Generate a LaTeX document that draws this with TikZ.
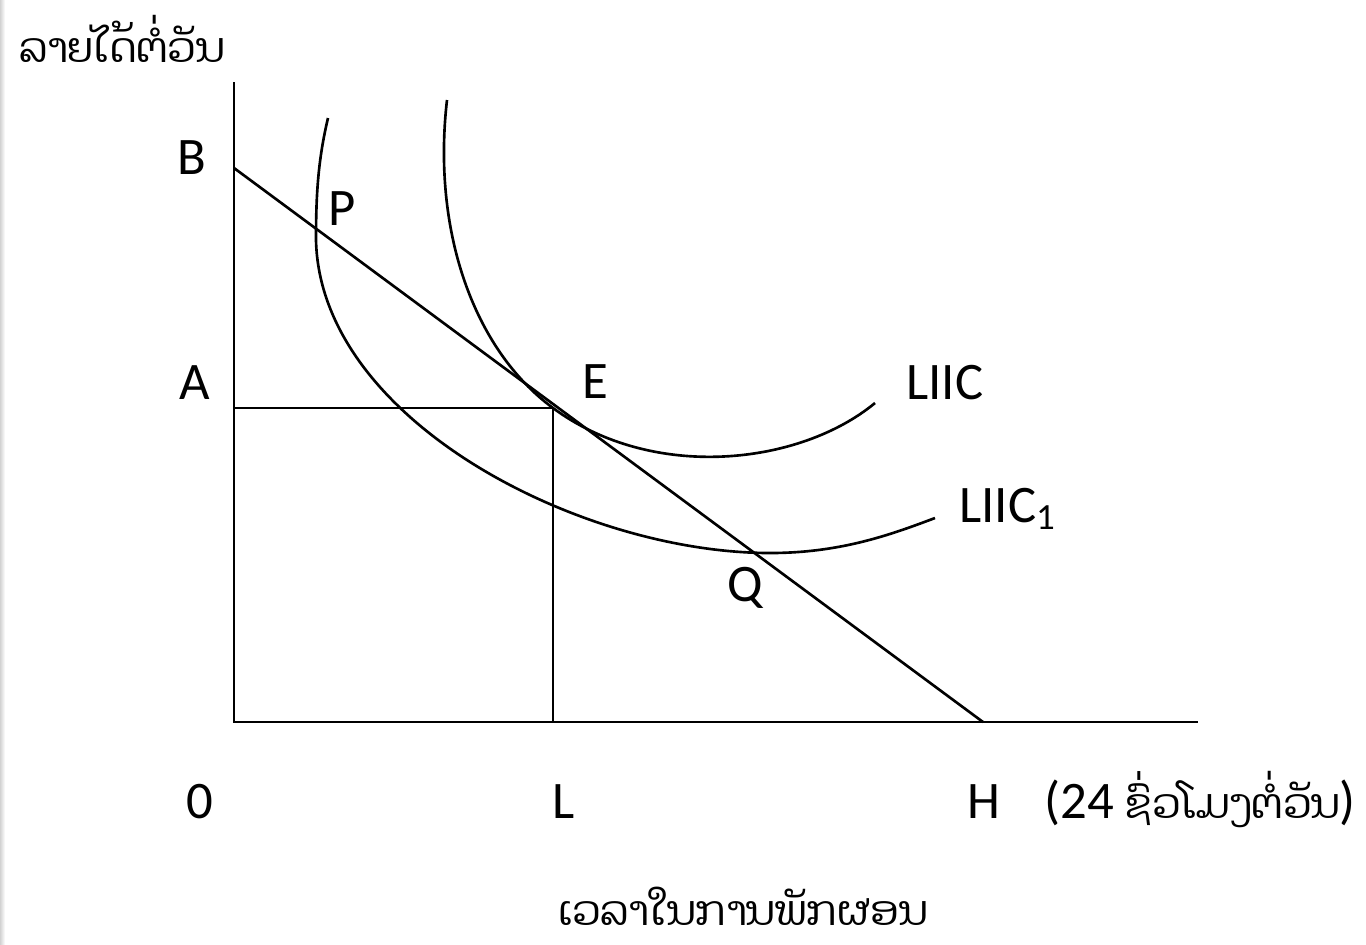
\documentclass[tikz,border=0pt]{standalone}
\usepackage{fontspec}
\setmainfont{Carlito}
\newfontfamily\laofont[Script=Lao]{Dhyana}
\usetikzlibrary{positioning}

\begin{document}
\begin{tikzpicture}[
    x=0.01cm, y=-0.01cm, line width=0.75pt,
    lbl/.style={inner sep=0pt, font=\fontsize{15}{18}\selectfont},
    laolbl/.style={inner sep=0pt, font=\fontsize{11.7}{14}\selectfont\laofont},
    curve/.style={line width=0.75pt}
  ]
  \useasboundingbox (0,0) rectangle (1366,944);
  \shade[left color=gray!35, right color=white] (0,0) rectangle (5,944);

  % axes and points
  \coordinate (top) at (234,82);
  \coordinate (O) at (234,722);
  \coordinate (xend) at (1198,722);
  \coordinate (B) at (234,168);
  \coordinate (H) at (983,722);
  \coordinate (A) at (234,408);
  \coordinate (E) at (553,408);
  \coordinate (L) at (553,722);

  \draw (top) -- (O) -- (xend);
  \draw (B) -- (H);
  \draw (A) -- (E) -- (L);

  % indifference curves
  \draw[curve] (447,100) .. controls (432,230) and (473,349) .. (E)
    .. controls (653,482) and (800,465) .. (875,403);
  \draw[curve] (328,118) .. controls (318,160) and (316,195) .. (316,240)
    .. controls (320,420) and (580,553) .. (770,553)
    .. controls (840,553) and (890,535) .. (935,518);

  % labels
  \node[laolbl, anchor=base west] (ylabel) at (18,62) {ລາຍໄດ້ຕໍ່ວັນ};
  \node[lbl, anchor=base] (Blbl) at (192,174) {B};
  \node[lbl, anchor=base] (Plbl) at (342,225) {P};
  \node[lbl, anchor=base] (Albl) at (195,399) {A};
  \node[lbl, anchor=base] (Elbl) at (595,398) {E};
  \node[lbl, anchor=base west] (liic) at (905,399) {LIIC};
  \node[lbl, anchor=base west] (liic1) at (958,522) {LIIC\textsubscript{1}};
  \node[lbl, anchor=base] (Qlbl) at (745,601) {Q};
  \node[lbl, anchor=base] (Olbl) at (200,818) {0};
  \node[lbl, anchor=base] (Llbl) at (564,818) {L};
  \node[lbl, anchor=base] (Hlbl) at (984,818) {H};
  \node[lbl, anchor=base west] (hours) at (1043,818)
    {(24 {\fontsize{11.7}{14}\selectfont\laofont ຊົ່ວໂມງຕໍ່ວັນ})};
  \node[laolbl, anchor=base] (xlabel) at (743,925) {ເວລາໃນການພັກຜອນ};
\end{tikzpicture}
\end{document}
